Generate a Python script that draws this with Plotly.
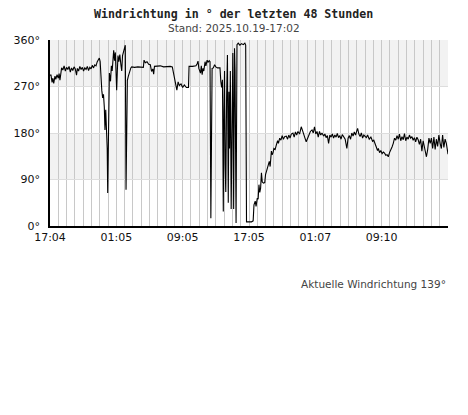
import plotly.graph_objects as go

title_text = "Windrichtung in ° der letzten 48 Stunden"
subtitle_text = "Stand: 2025.10.19-17:02"
current_text = "Aktuelle Windrichtung 139°"

x_tick_pos = [0, 8, 16, 24, 32, 40]
x_tick_labels = ["17:04", "01:05", "09:05", "17:05", "01:07", "09:10"]
y_tick_vals = [0, 90, 180, 270, 360]
y_tick_labels = ["0°", "90°", "180°", "270°", "360°"]

hours = [
    0.0, 0.12, 0.25, 0.35, 0.45, 0.6, 0.7, 0.85, 1.0, 1.1, 1.2, 1.3,
    1.4, 1.55, 1.7, 1.85, 2.0, 2.15, 2.3, 2.45, 2.6, 2.75, 2.9, 3.05, 3.2, 3.3,
    3.45, 3.6, 3.75, 3.9, 4.05, 4.2, 4.35, 4.5, 4.65, 4.8, 4.95, 5.1, 5.25, 5.4,
    5.55, 5.7, 5.8, 5.95,
    6.05, 6.15, 6.25, 6.35, 6.45, 6.55, 6.63, 6.72, 6.8, 6.9, 6.96, 7.02, 7.1,
    7.16, 7.3, 7.4, 7.5, 7.6, 7.68, 7.78, 7.88, 7.98, 8.04, 8.12, 8.2, 8.3,
    8.42, 8.55, 8.65, 8.75, 8.85, 8.95, 9.08, 9.17, 9.25, 9.33, 9.45, 9.6,
    9.75, 9.85,
    10.2, 10.6, 11.0, 11.26, 11.34, 11.5, 11.7, 11.9, 12.1, 12.25, 12.4, 12.5,
    12.6, 12.9, 13.3, 13.7, 14.1, 14.5, 14.75, 14.85, 15.0, 15.15, 15.3, 15.45,
    15.6, 15.8, 16.0, 16.2, 16.45, 16.7, 16.77, 17.2, 17.6, 17.75, 17.85, 17.95,
    18.05, 18.15, 18.25, 18.35, 18.45, 18.55, 18.7, 18.8, 18.95, 19.06, 19.2,
    19.3, 19.4, 19.48, 19.55, 19.7, 19.85, 20.0, 20.2, 20.4, 20.5,
    20.6, 20.7, 20.8, 20.9, 20.97, 21.05, 21.12, 21.2, 21.3, 21.4, 21.5, 21.58,
    21.65, 21.75, 21.85, 21.95, 22.05, 22.15, 22.25, 22.32, 22.44, 22.55, 22.7,
    22.9, 23.1, 23.3, 23.5, 23.6, 23.7, 24.0, 24.3, 24.5, 24.6, 24.75, 24.85,
    25.0, 25.1, 25.2, 25.3, 25.4, 25.5, 25.6, 25.75, 25.9, 26.0, 26.15, 26.3,
    26.45, 26.55, 26.7, 26.8, 26.9, 27.0, 27.15, 27.3, 27.45, 27.55, 27.7,
    27.85, 28.0, 28.15, 28.3, 28.5, 28.65, 28.8, 28.95, 29.1, 29.3, 29.45, 29.6,
    29.75, 29.9, 30.1, 30.3, 30.45, 30.6, 30.75, 30.9, 31.05, 31.2, 31.4, 31.6,
    31.75, 31.9, 32.05, 32.2, 32.35, 32.5, 32.65, 32.8, 33.0, 33.15, 33.3, 33.45,
    33.6, 33.75, 33.9, 34.05, 34.2, 34.35, 34.5, 34.65, 34.8, 34.95, 35.1, 35.25,
    35.4, 35.6, 35.8, 35.95, 36.1, 36.25, 36.4, 36.55, 36.7, 36.85, 37.0, 37.1,
    37.25, 37.4, 37.55, 37.7, 37.85, 38.0, 38.15, 38.3, 38.5, 38.7, 38.9, 39.05,
    39.2, 39.35, 39.5, 39.6, 39.75, 39.9, 40.05, 40.2, 40.35, 40.5, 40.65, 40.8,
    40.95, 41.1, 41.25, 41.4, 41.55, 41.7, 41.85, 42.0, 42.15, 42.3, 42.45, 42.6,
    42.75, 42.9, 43.05, 43.2, 43.35, 43.5, 43.65, 43.8, 43.95, 44.1, 44.25, 44.4,
    44.55, 44.7, 44.85, 45.0, 45.2, 45.4, 45.55, 45.7, 45.85, 46.0, 46.15, 46.3,
    46.45, 46.6, 46.75, 46.9, 47.05, 47.2, 47.35, 47.5, 47.65, 47.8, 48.0,
]

degrees = [
    292, 292, 278, 286, 276, 290, 284, 293, 286, 295, 282, 300,
    306, 302, 310, 300, 307, 303, 309, 298, 306, 301, 308, 304, 292, 305,
    300, 309, 303, 307, 300, 306, 303, 309, 301, 307, 304, 311, 306, 312,
    310, 318, 322, 325,
    318, 270, 262, 248, 255, 230, 186, 225, 200, 150, 64, 170, 270,
    296, 280, 310, 300, 335, 340, 320, 336, 290, 263, 300, 330, 318,
    332, 312, 300, 330, 338, 344, 350, 70, 250, 282, 290, 300,
    306, 308,
    307, 308, 307, 307, 321, 316, 318, 313, 312, 299, 304, 294,
    309, 309, 310, 308, 309, 309, 308, 300, 282, 275, 263, 279,
    272, 275, 268, 273, 268, 268, 309, 309, 310, 314, 319, 305,
    300, 296, 310, 293, 305, 300, 318, 310, 321, 317, 320,
    318, 15, 180, 305, 306, 312, 308, 306, 306, 306,
    280, 268, 283, 28, 220, 300, 120, 66, 250, 331, 45, 260,
    150, 300, 33, 200, 335, 33, 344, 300, 6, 351, 354,
    350, 353, 351, 354, 350, 8, 8, 8, 10, 41, 48, 38,
    54, 52, 80, 65, 73, 103, 85, 83, 84, 100, 108, 119,
    125, 115, 145, 138, 142, 150, 148, 157, 165, 160, 170,
    166, 175, 168, 173, 174, 168, 176, 170, 178, 180, 172, 182,
    176, 183, 178, 192, 185, 175, 170, 163, 170, 178, 183, 186,
    180, 192, 178, 183, 172, 183, 176, 180, 174, 178, 171, 175,
    160, 176, 172, 178, 170, 176, 172, 179, 171, 175, 168, 177,
    173, 168, 150, 170, 175, 168, 180, 174, 182, 176, 184, 189,
    178, 173, 180, 170, 176, 174, 171, 176, 168, 172, 164, 166,
    157, 153, 146, 150, 142, 146, 140, 143, 141, 137, 138, 134,
    142, 150, 153, 160, 170, 166, 175, 168, 178, 165, 173, 167,
    179, 165, 172, 168, 176, 170, 173, 166, 171, 163, 172, 167,
    158, 168, 145, 165, 150, 134, 148, 170, 160, 170, 150, 172,
    148, 168, 154, 176, 160, 150, 176, 152, 168, 160, 139,
]

band_ranges = [(90, 180), (270, 360)]

fig = go.Figure()
fig.add_trace(go.Scatter(
    x=hours, y=degrees, mode="lines",
    line=dict(color="#000000", width=1.1),
    hoverinfo="skip", showlegend=False,
))

for lo, hi in band_ranges:
    fig.add_shape(type="rect", xref="x", yref="y", x0=0, x1=48, y0=lo, y1=hi,
                  fillcolor="#f2f2f2", line=dict(width=0), layer="below")

fig.update_layout(
    width=460, height=407,
    margin=dict(l=42, r=20, t=32, b=189, autoexpand=False),
    paper_bgcolor="white", plot_bgcolor="white",
    showlegend=False,
    font=dict(family="DejaVu Sans", size=10.5, color="#222222"),
)

fig.update_xaxes(
    range=[0, 48], tickmode="array", tickvals=x_tick_pos, ticktext=x_tick_labels,
    showgrid=True, gridcolor="#c8c8c8", gridwidth=1,
    minor=dict(dtick=1, tick0=0, showgrid=True, gridcolor="#c8c8c8", gridwidth=1),
    showline=True, linecolor="#000000", linewidth=1.5,
    ticks="", zeroline=False, fixedrange=True,
    tickfont=dict(size=11, color="#111111"),
)
fig.update_yaxes(
    range=[0, 360], tickmode="array", tickvals=y_tick_vals, ticktext=y_tick_labels,
    showgrid=True, gridcolor="#dddddd", gridwidth=1,
    showline=True, linecolor="#000000", linewidth=1.5,
    ticks="", zeroline=False, fixedrange=True, ticklabelstandoff=6,
    tickfont=dict(size=11, color="#111111"),
)

title_x = 0.4623
fig.add_annotation(text="<b>" + title_text + "</b>", xref="paper", yref="paper",
                   x=title_x, y=1, yshift=34, xanchor="center", yanchor="top",
                   showarrow=False, borderpad=0,
                   font=dict(family="DejaVu Sans Mono", size=11.6, color="#222222"))
fig.add_annotation(text=subtitle_text, xref="paper", yref="paper",
                   x=title_x, y=1, yshift=12, xanchor="center", yanchor="middle",
                   showarrow=False,
                   font=dict(family="DejaVu Sans", size=10.5, color="#444444"))
fig.add_annotation(text=current_text, xref="paper", yref="paper",
                   x=1, y=0, yshift=-58, xanchor="right", yanchor="middle",
                   showarrow=False,
                   font=dict(family="DejaVu Sans", size=10.5, color="#444444"))

fig.write_html("out.html", config={"displayModeBar": False})
